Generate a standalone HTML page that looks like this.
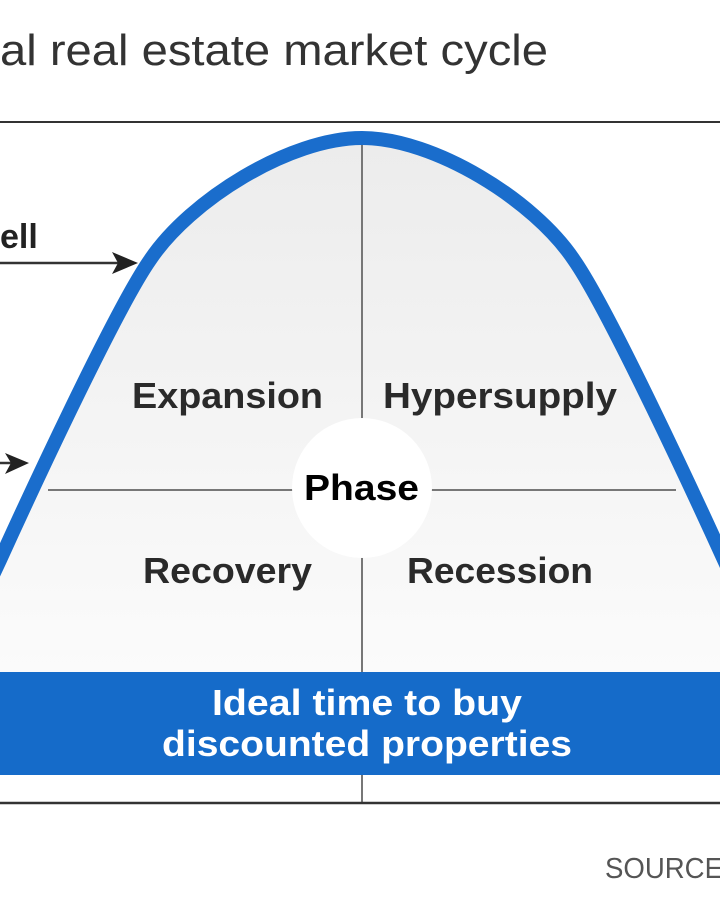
<!DOCTYPE html>
<html><head><meta charset="utf-8"><style>
html,body{margin:0;padding:0;background:#fff;width:720px;height:900px;overflow:hidden}
svg{display:block}
text{font-family:"Liberation Sans",sans-serif}
</style></head><body>
<svg width="720" height="900" viewBox="0 0 720 900" xmlns="http://www.w3.org/2000/svg">
<defs>
<linearGradient id="g" x1="0" y1="0" x2="0" y2="1">
<stop offset="0" stop-color="#ececec"/><stop offset="1" stop-color="#fbfbfb"/>
</linearGradient>
</defs>
<text x="0" y="65" font-size="44" fill="#333" textLength="548" lengthAdjust="spacingAndGlyphs">al real estate market cycle</text>
<line x1="0" y1="122" x2="720" y2="122" stroke="#333" stroke-width="2"/>
<path d="M-14,590 L0,560 C25,505 115,310 150,260 C190,200 290,138 362,138 C434,138 534,200 574,260 C609,310 699,505 724,560 L738,590 L738,672 L-14,672 Z" fill="url(#g)"/>
<line x1="362" y1="145" x2="362" y2="803" stroke="#777" stroke-width="2"/>
<line x1="48" y1="490" x2="676" y2="490" stroke="#777" stroke-width="2"/>
<circle cx="362" cy="488" r="70" fill="#fff"/>
<path d="M-14,590 L0,560 C25,505 115,310 150,260 C190,200 290,138 362,138 C434,138 534,200 574,260 C609,310 699,505 724,560 L738,590" fill="none" stroke="#1a6dcc" stroke-width="14" stroke-linejoin="round"/>
<text x="0" y="248" font-size="34" font-weight="bold" fill="#222">ell</text>
<line x1="0" y1="263" x2="125" y2="263" stroke="#333" stroke-width="2.5"/>
<polygon points="138,263 112,252 118,263 112,274" fill="#222"/>
<line x1="0" y1="463" x2="15" y2="463" stroke="#333" stroke-width="2.5"/>
<polygon points="29,463 5,453 11,463 5,474" fill="#222"/>
<g font-size="36" font-weight="bold" fill="#2a2a2a">
<text x="132" y="408" textLength="191" lengthAdjust="spacingAndGlyphs">Expansion</text>
<text x="383" y="408" textLength="234" lengthAdjust="spacingAndGlyphs">Hypersupply</text>
<text x="143" y="583" textLength="169" lengthAdjust="spacingAndGlyphs">Recovery</text>
<text x="407" y="583" textLength="186" lengthAdjust="spacingAndGlyphs">Recession</text>
</g>
<text x="304" y="500" font-size="36" font-weight="bold" fill="#000" textLength="115" lengthAdjust="spacingAndGlyphs">Phase</text>
<rect x="0" y="672" width="720" height="103" fill="#156bc9"/>
<text x="212" y="715" font-size="36" font-weight="bold" fill="#fff" textLength="310" lengthAdjust="spacingAndGlyphs">Ideal time to buy</text>
<text x="162" y="756" font-size="36" font-weight="bold" fill="#fff" textLength="410" lengthAdjust="spacingAndGlyphs">discounted properties</text>
<line x1="0" y1="803" x2="720" y2="803" stroke="#333" stroke-width="2.5"/>
<text x="605" y="878" font-size="29" fill="#555" textLength="118" lengthAdjust="spacingAndGlyphs">SOURCE</text>
</svg>
</body></html>
